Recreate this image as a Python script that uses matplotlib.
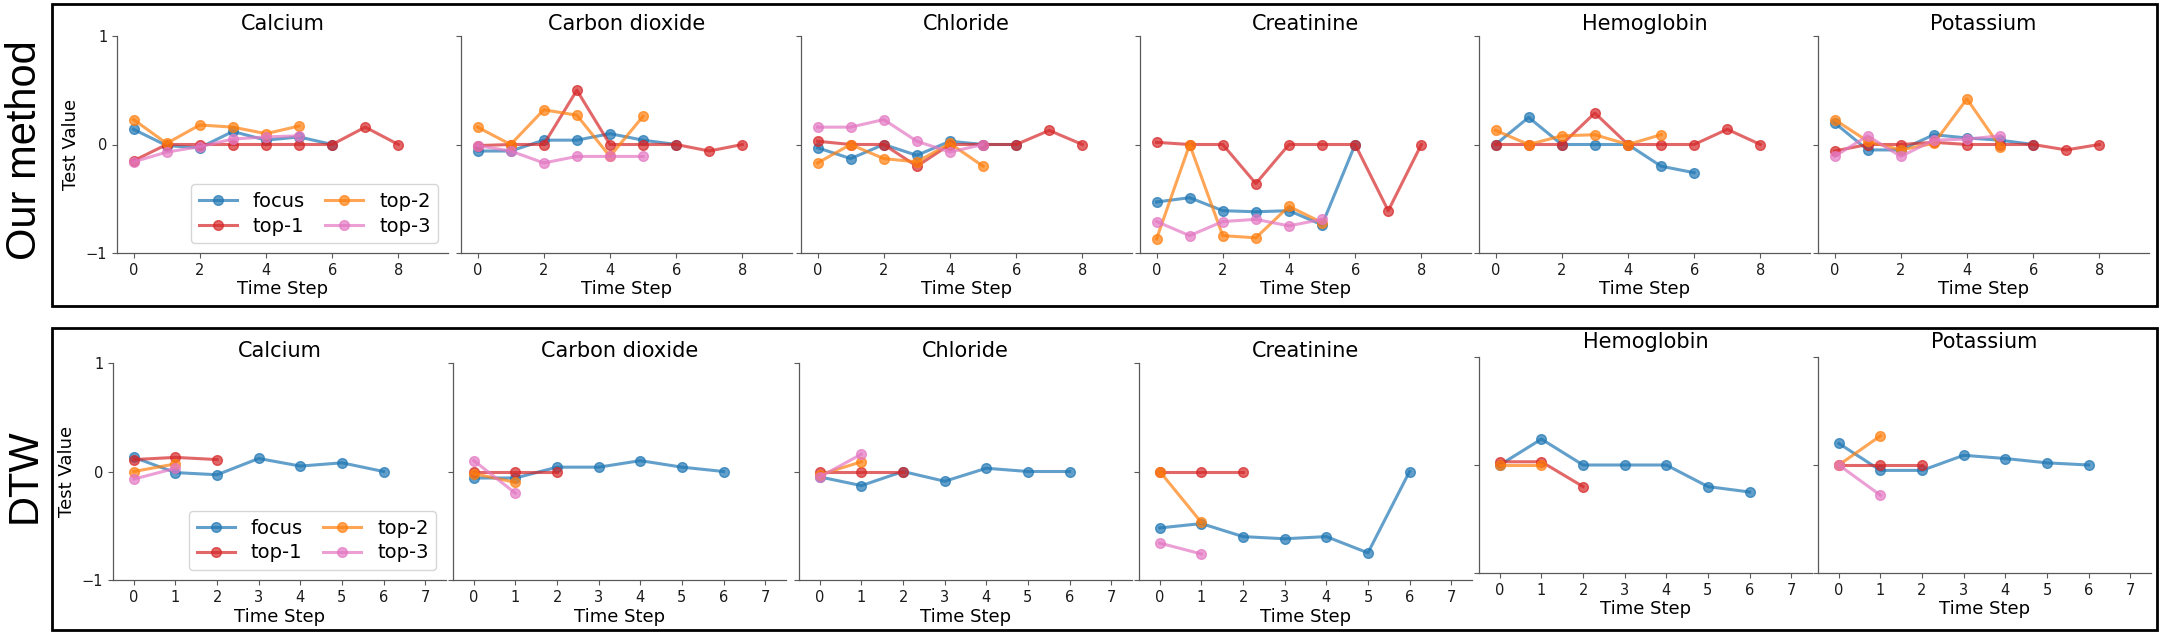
import numpy as np
import matplotlib
matplotlib.use("Agg")
import matplotlib.pyplot as plt
from matplotlib.patches import Rectangle

tests = ["Calcium", "Carbon dioxide", "Chloride", "Creatinine", "Hemoglobin", "Potassium"]
series_names = ["focus", "top-1", "top-2", "top-3"]
series_colors = ["tab:blue", "tab:red", "tab:orange", "tab:pink"]

# --- our method ---
ours_focus = [
    [0.14, -0.01, -0.03, 0.12, 0.04, 0.07, 0.0],
    [-0.06, -0.06, 0.04, 0.04, 0.10, 0.04, 0.0],
    [-0.03, -0.13, 0.0, -0.10, 0.03, 0.0, 0.0],
    [-0.53, -0.49, -0.61, -0.62, -0.61, -0.74, 0.0],
    [0.0, 0.25, 0.0, 0.0, 0.0, -0.20, -0.26],
    [0.20, -0.05, -0.05, 0.09, 0.06, 0.04, 0.0],
]
ours_top1 = [
    [-0.15, 0, 0, 0, 0, 0, 0, 0.16, 0],
    [-0.01, 0, 0, 0.50, 0, 0, 0, -0.06, 0],
    [0.03, 0, 0, -0.20, 0, 0, 0, 0.13, 0],
    [0.02, 0, 0, -0.36, 0, 0, 0, -0.61, 0],
    [0, 0, 0, 0.29, 0, 0, 0, 0.14, 0],
    [-0.06, 0, 0, 0.02, 0, 0, 0, -0.05, 0],
]
ours_top2 = [
    [0.23, 0.01, 0.18, 0.16, 0.10, 0.17],
    [0.16, 0.0, 0.32, 0.27, -0.11, 0.26],
    [-0.17, 0.0, -0.13, -0.16, 0.01, -0.20],
    [-0.87, 0.0, -0.84, -0.86, -0.57, -0.72],
    [0.13, 0.0, 0.08, 0.09, 0.0, 0.09],
    [0.23, 0.03, -0.05, 0.01, 0.42, -0.02],
]
ours_top3 = [
    [-0.16, -0.07, -0.02, 0.05, 0.07, 0.08],
    [-0.01, -0.06, -0.17, -0.11, -0.11, -0.11],
    [0.16, 0.16, 0.23, 0.03, -0.07, 0.0],
    [-0.71, -0.84, -0.71, -0.69, -0.75, -0.69],
    [],
    [-0.11, 0.08, -0.11, 0.04, 0.05, 0.08],
]

# --- DTW ---
dtw_focus = [
    [0.13, -0.01, -0.03, 0.12, 0.05, 0.08, 0.0],
    [-0.06, -0.06, 0.04, 0.04, 0.10, 0.04, 0.0],
    [-0.05, -0.13, 0.0, -0.09, 0.03, 0.0, 0.0],
    [-0.52, -0.48, -0.60, -0.62, -0.60, -0.75, 0.0],
    [0.0, 0.24, 0.0, 0.0, 0.0, -0.20, -0.25],
    [0.20, -0.05, -0.05, 0.09, 0.06, 0.02, 0.0],
]
dtw_top1 = [
    [0.11, 0.13, 0.11],
    [0.0, 0.0, 0.0],
    [0.0, 0.0, 0.0],
    [0.0, 0.0, 0.0],
    [0.03, 0.03, -0.20],
    [0.0, 0.0, 0.0],
]
dtw_top2 = [
    [0.0, 0.07],
    [-0.02, -0.10],
    [-0.03, 0.09],
    [0.0, -0.47],
    [0.0, 0.0],
    [0.0, 0.27],
]
dtw_top3 = [
    [-0.07, 0.03],
    [0.10, -0.20],
    [-0.05, 0.16],
    [-0.66, -0.76],
    [],
    [0.0, -0.28],
]

W, H = 2162, 634
fig = plt.figure(figsize=(W / 100, H / 100), dpi=100)


def px_rect(left, top, width, bottom):
    return [left / W, 1 - bottom / H, width / W, (bottom - top) / H]


def draw_panel(ax, data, xlim, xticks, title, first, title_pad):
    for vals, name, col in zip(data, series_names, series_colors):
        if len(vals) == 0:
            ax.plot([], [], "-o", color=col, alpha=0.7, lw=2.2, ms=7, label=name)
            continue
        ax.plot(np.arange(len(vals)), vals, "-o", color=col, alpha=0.7,
                lw=2.2, ms=7, label=name)
    ax.set_xlim(*xlim)
    ax.set_ylim(-1, 1)
    ax.set_xticks(xticks)
    ax.set_yticks([-1, 0, 1])
    ax.spines["top"].set_visible(False)
    ax.spines["right"].set_visible(False)
    for s in ["left", "bottom"]:
        ax.spines[s].set_color("0.35")
        ax.spines[s].set_linewidth(0.9)
    ax.tick_params(labelsize=10.5, colors="0.35", labelcolor="0.1")
    ax.set_title(title, fontsize=15, pad=title_pad)
    ax.set_xlabel("Time Step", fontsize=13, labelpad=2)
    if first:
        ax.set_ylabel("Test Value", fontsize=13)
        ax.legend(loc="lower right", ncol=2, fontsize=14, handlelength=2,
                  columnspacing=1.0, handletextpad=0.8, labelspacing=0.3,
                  borderpad=0.4)
    else:
        ax.set_yticklabels([])


top_lefts = [117, 461, 801, 1140, 1479, 1818]
bot_lefts = [113, 453, 799, 1139, 1479, 1818]

for i, t in enumerate(tests):
    ax = fig.add_axes(px_rect(top_lefts[i], 36, 331, 253))
    data = [ours_focus[i], ours_top1[i], ours_top2[i], ours_top3[i]]
    draw_panel(ax, data, (-0.5, 9.5), range(0, 9, 2), t, i == 0, 4)

for i, t in enumerate(tests):
    if i >= 4:
        top, bot, pad = 357, 573, 6.5
    else:
        top, bot, pad = 363, 580, 4
    ax = fig.add_axes(px_rect(bot_lefts[i], top, 333, bot))
    data = [dtw_focus[i], dtw_top1[i], dtw_top2[i], dtw_top3[i]]
    draw_panel(ax, data, (-0.5, 7.5), range(0, 8), t, i == 0, pad)

# row boxes
for top, bot in [(4, 306), (328, 630)]:
    fig.patches.append(Rectangle((52 / W, 1 - bot / H), (2157 - 52) / W, (bot - top) / H,
                                 transform=fig.transFigure, fill=False,
                                 edgecolor="black", linewidth=2))

fig.text(25 / W, 1 - 150 / H, "Our method", rotation=90, ha="center", va="center",
         fontsize=30, family=["Liberation Sans", "DejaVu Sans"])
fig.text(25 / W, 1 - 476 / H, "DTW", rotation=90, ha="center", va="center",
         fontsize=30, family=["Liberation Sans", "DejaVu Sans"])

fig.savefig("out.png", dpi=100)
